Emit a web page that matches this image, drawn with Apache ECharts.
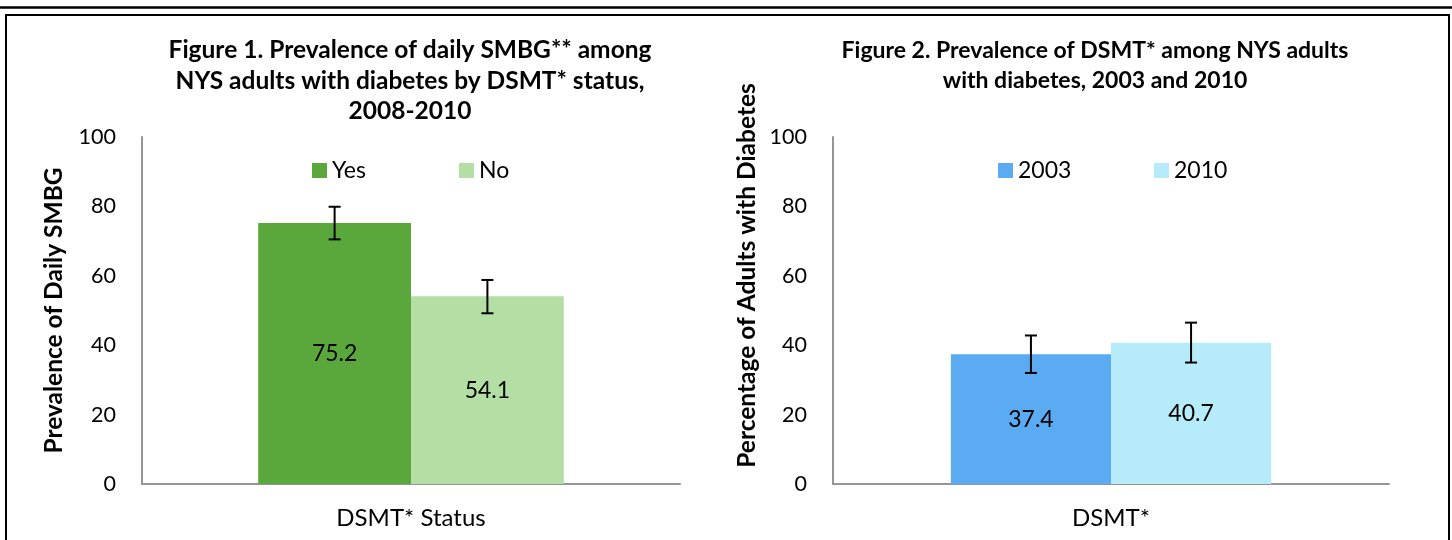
<!DOCTYPE html>
<html>
<head>
<meta charset="utf-8">
<script src="https://cdn.jsdelivr.net/npm/echarts@6/dist/echarts.min.js"></script>
<style>html,body{margin:0;padding:0;background:#fff;}#c{width:1452px;height:540px;}</style>
</head>
<body>
<div id="c"></div>
<script>
const categories1 = ['DSMT* Status'];
const seriesNames1 = ['Yes', 'No'];
const values1 = [75.2, 54.1];
const errLow1 = [70.5, 49.2];
const errHigh1 = [79.9, 58.8];

const categories2 = ['DSMT*'];
const seriesNames2 = ['2003', '2010'];
const values2 = [37.4, 40.7];
const errLow2 = [32.0, 35.0];
const errHigh2 = [42.8, 46.5];

const yMin = 0, yMax = 100, yStep = 20;

const title1 = 'Figure 1. Prevalence of daily SMBG** among\nNYS adults with diabetes by DSMT* status,\n2008-2010';
const title2 = 'Figure 2. Prevalence of DSMT* among NYS adults\nwith diabetes, 2003 and 2010';
const yName1 = 'Prevalence of Daily SMBG';
const yName2 = 'Percentage of Adults with Diabetes';

const colors1 = ['#5aa83c', '#b3dfa5'];
const colors2 = ['#5babf2', '#b6ebfa'];
const FONT = 'Lato';
const BW1 = 28.4, BW2 = 28.8;

function errRender(sign, pct) {
  return function (params, api) {
    const band = api.size([1, 0])[0];
    const off = sign * band * pct / 100 / 2;
    const lo = api.coord([api.value(0), api.value(1)]);
    const hi = api.coord([api.value(0), api.value(2)]);
    const x = lo[0] + off;
    const st = { stroke: '#000', lineWidth: 2 };
    return {
      type: 'group',
      children: [
        { type: 'line', shape: { x1: x, y1: lo[1], x2: x, y2: hi[1] }, style: st },
        { type: 'line', shape: { x1: x - 6, y1: lo[1], x2: x + 6, y2: lo[1] }, style: st },
        { type: 'line', shape: { x1: x - 6, y1: hi[1], x2: x + 6, y2: hi[1] }, style: st }
      ]
    };
  };
}

function yAxis(gi, name, gap, pad) {
  return {
    type: 'value', gridIndex: gi, min: yMin, max: yMax, interval: yStep,
    name: name, nameLocation: 'middle', nameRotate: 90, nameGap: gap,
    nameTextStyle: { fontFamily: FONT, fontWeight: 'bold', fontSize: 24.5, color: '#000', padding: pad },
    axisLine: { show: true, lineStyle: { color: '#959595', width: 2 } },
    axisTick: { show: false }, splitLine: { show: false },
    axisLabel: { fontFamily: FONT, fontSize: 21.5, color: '#000', margin: 26 }
  };
}
function xAxis(gi, cats) {
  return {
    type: 'category', gridIndex: gi, data: cats,
    axisLine: { show: true, lineStyle: { color: '#959595', width: 2 } },
    axisTick: { show: false },
    axisLabel: { fontFamily: FONT, fontSize: 24, color: '#000', margin: 22 }
  };
}
function barSeries(name, val, gi, color, pct) {
  return {
    type: 'bar', name: name, xAxisIndex: gi, yAxisIndex: gi,
    data: [val], barWidth: pct + '%', barGap: '0%',
    itemStyle: { color: color },
    label: { show: true, position: 'inside', fontFamily: FONT, fontSize: 23, color: '#000', formatter: p => p.value.toFixed(1) }
  };
}
function errSeries(lo, hi, gi, sign, pct) {
  return {
    type: 'custom', xAxisIndex: gi, yAxisIndex: gi, z: 5,
    renderItem: errRender(sign, pct),
    data: [[0, lo, hi]], encode: { x: 0, y: [1, 2] }, silent: true
  };
}
function legend(name, left) {
  return {
    data: [name], left: left, top: 159, padding: 0, icon: 'rect', itemWidth: 15, itemHeight: 15, itemGap: 0,
    textStyle: { fontFamily: FONT, fontSize: 23, color: '#000' },
    selectedMode: false
  };
}

const chart = echarts.init(document.getElementById('c'), null, { renderer: 'canvas' });
chart.setOption({
  animation: false,
  backgroundColor: '#fff',
  graphic: [
    { type: 'line', shape: { x1: 0, y1: 7.5, x2: 1452, y2: 7.5 }, style: { stroke: '#000', lineWidth: 2.5 } },
    { type: 'rect', shape: { x: 6, y: 15, width: 1443, height: 600 }, style: { fill: 'none', stroke: '#000', lineWidth: 2 } },
    { type: 'text', x: 410, y: 35, style: { text: title1, textAlign: 'center', textVerticalAlign: 'top', font: 'bold 24.5px ' + FONT, lineHeight: 30.5, fill: '#000' } },
    { type: 'text', x: 1095, y: 35, style: { text: title2, textAlign: 'center', textVerticalAlign: 'top', font: 'bold 23px ' + FONT, lineHeight: 30.5, fill: '#000' } }
  ],
  legend: [legend(seriesNames1[0], 312), legend(seriesNames1[1], 459), legend(seriesNames2[0], 998), legend(seriesNames2[1], 1154)],
  grid: [
    { left: 142, top: 137, width: 538, height: 347 },
    { left: 833, top: 137, width: 556, height: 347 }
  ],
  xAxis: [xAxis(0, categories1), xAxis(1, categories2)],
  yAxis: [yAxis(0, yName1, 75.5, [0, 0, 0, 0]), yAxis(1, yName2, 73.5, [0, 0, 0, 70])],
  series: [
    barSeries(seriesNames1[0], values1[0], 0, colors1[0], BW1),
    barSeries(seriesNames1[1], values1[1], 0, colors1[1], BW1),
    errSeries(errLow1[0], errHigh1[0], 0, -1, BW1),
    errSeries(errLow1[1], errHigh1[1], 0, 1, BW1),
    barSeries(seriesNames2[0], values2[0], 1, colors2[0], BW2),
    barSeries(seriesNames2[1], values2[1], 1, colors2[1], BW2),
    errSeries(errLow2[0], errHigh2[0], 1, -1, BW2),
    errSeries(errLow2[1], errHigh2[1], 1, 1, BW2)
  ]
});
</script>
</body>
</html>
